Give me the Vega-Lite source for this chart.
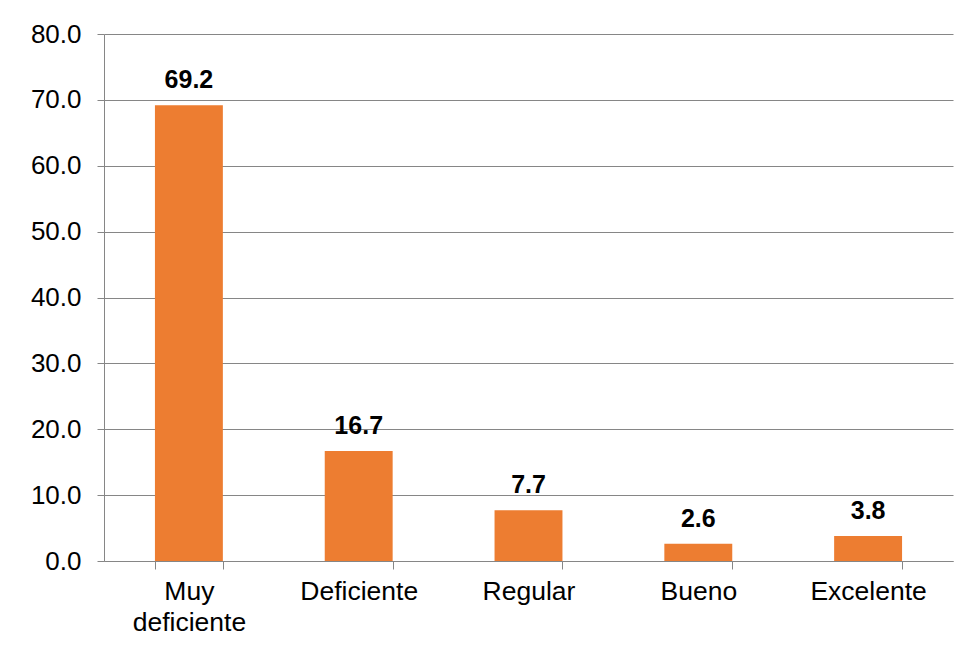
{
  "$schema": "https://vega.github.io/schema/vega-lite/v6.json",
  "width": 849,
  "height": 527,
  "autosize": "none",
  "padding": {"left": 104, "top": 34, "right": 26, "bottom": 90},
  "background": "white",
  "data": {
    "values": [
      {"categoria": "Muy deficiente", "porcentaje": 69.2},
      {"categoria": "Deficiente", "porcentaje": 16.7},
      {"categoria": "Regular", "porcentaje": 7.7},
      {"categoria": "Bueno", "porcentaje": 2.6},
      {"categoria": "Excelente", "porcentaje": 3.8}
    ]
  },
  "encoding": {
    "x": {
      "field": "categoria",
      "type": "nominal",
      "sort": null,
      "title": null,
      "scale": {"paddingInner": 0.6, "paddingOuter": 0.3},
      "axis": {
        "labelAngle": 0,
        "labelFont": "Liberation Sans",
        "labelFontSize": 26.5,
        "labelColor": "black",
        "labelPadding": 9,
        "labelLineHeight": 31,
        "labelExpr": "datum.label == 'Muy deficiente' ? ['Muy', 'deficiente'] : datum.label",
        "tickBand": "extent",
        "tickSize": 8,
        "tickColor": "#868686",
        "domainColor": "#868686",
        "grid": false
      }
    },
    "y": {
      "field": "porcentaje",
      "type": "quantitative",
      "title": null,
      "scale": {"domain": [0, 80]},
      "axis": {
        "values": [0, 10, 20, 30, 40, 50, 60, 70, 80],
        "format": ".1f",
        "labelFont": "Liberation Sans",
        "labelFontSize": 26,
        "labelColor": "black",
        "labelPadding": 16,
        "tickSize": 7,
        "tickColor": "#868686",
        "domainColor": "#868686",
        "gridColor": "#868686",
        "gridWidth": 1
      }
    }
  },
  "layer": [
    {"mark": {"type": "bar", "color": "#ED7D31"}},
    {
      "mark": {
        "type": "text",
        "font": "Liberation Sans",
        "fontSize": 25,
        "fontWeight": "bold",
        "color": "black",
        "baseline": "alphabetic",
        "dy": -17
      },
      "encoding": {"text": {"field": "porcentaje", "type": "quantitative", "format": ".1f"}}
    }
  ],
  "config": {"view": {"stroke": null}}
}
